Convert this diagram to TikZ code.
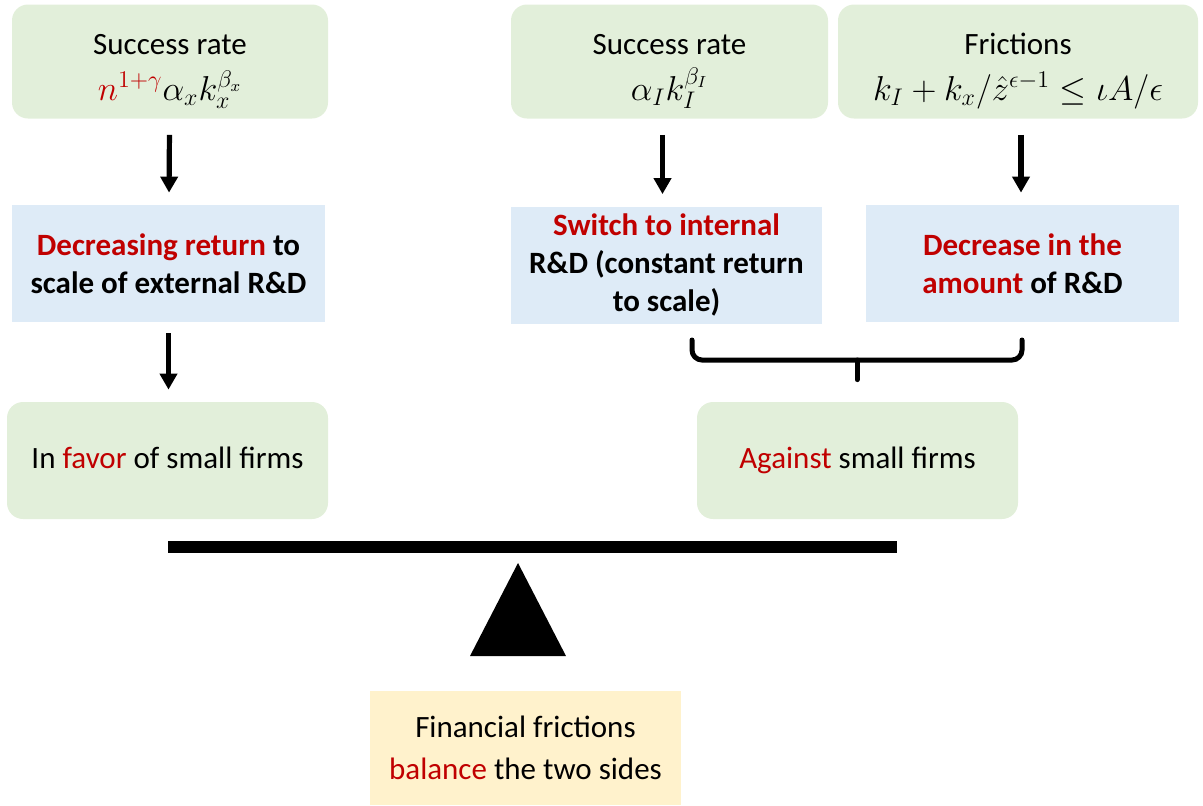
\documentclass[tikz,border=0pt]{standalone}
\usepackage{fontspec}
\setmainfont{Carlito}
\usetikzlibrary{arrows.meta,positioning,calc}
\definecolor{pgreen}{RGB}{226,239,218}
\definecolor{pblue}{RGB}{222,235,247}
\definecolor{pyellow}{RGB}{255,242,204}
\definecolor{hot}{RGB}{192,0,0}
\newcommand{\hl}[1]{\textcolor{hot}{#1}}
\newcommand{\mfs}{\fontsize{17}{19}\selectfont}
\newcommand{\toppad}{\rule{0pt}{20pt}}

\begin{document}
\begin{tikzpicture}[x=0.5pt,y=-0.5pt,
  base/.style={align=center,inner sep=0pt,font=\fontsize{15.5}{19}\selectfont},
  gbox/.style={base,fill=pgreen,rounded corners=8pt,minimum height=57pt},
  bbox/.style={base,fill=pblue,minimum height=58.5pt,font=\fontsize{15.5}{19}\selectfont\bfseries},
  ybox/.style={base,fill=pyellow,minimum height=57pt,font=\fontsize{15.5}{21}\selectfont},
  a/.style={-{Triangle[length=8pt,width=8.5pt]},line width=2.6pt,shorten <=8pt,shorten >=6pt},
  brc/.style={line width=2.5pt,line cap=round}]
 \useasboundingbox (0,0) rectangle (1203,805);
 % top row
 \node[gbox,minimum width=158pt] (g1) at (170,61.5) {\toppad Success rate\\[4pt] {\mfs$\textcolor{hot}{n^{1+\gamma}}\alpha_x k_x^{\beta_x}$}};
 \node[gbox,minimum width=158.5pt] (g2) at (669.5,61.5) {\toppad Success rate\\[4pt] {\mfs$\alpha_I k_I^{\beta_I}$}};
 \node[gbox,minimum width=180pt] (g3) at (1018,61.5) {\toppad Frictions\\[4pt] {\mfs$k_I + k_x/\hat{z}^{\epsilon-1} \leq \iota A/\epsilon$}};
 % mechanisms
 \node[bbox,minimum width=156.5pt] (b1) at (168.5,263.5) {\hl{Decreasing return} to\\ scale of external R\&D};
 \node[bbox,minimum width=155.5pt] (b2) at (666.5,265) {\hl{Switch to internal}\\ R\&D (constant return\\ to scale)};
 \node[bbox,minimum width=156.5pt] (b3) at (1022.5,263.5) {\hl{Decrease in the}\\ \hl{amount} of R\&D};
 % effects
 \node[gbox,minimum width=160.5pt,minimum height=58.5pt] (g4) at (167.5,460.5) {\strut In \hl{favor} of small firms};
 \node[gbox,minimum width=160.5pt,minimum height=58.5pt] (g5) at (857.5,460.5) {\strut\hl{Against} small firms};
 \node[ybox,minimum width=155.5pt] (y1) at (525.5,748) {Financial frictions\\ \hl{balance} the two sides};
 \draw[a] (g1) -- (b1);
 \draw[a] ([xshift=-3.5pt]g2.south) -- ([xshift=-3.5pt]g2.south |- b2.north);
 \draw[a] ([xshift=1.5pt]g3.south) -- ([xshift=1.5pt]g3.south |- b3.north);
 \draw[a,shorten <=5.5pt] (b1) -- (b1 |- g4.north);
 % brace
 \coordinate (bl) at (692,340);
 \coordinate (br) at (1022,340);
 \coordinate (bm) at (857,360);
 \draw[brc,rounded corners=5pt] (bl) -- (bl |- bm) -- (br |- bm) -- (br);
 \draw[brc,shorten >=11pt] (bm) -- (bm |- g5.north);
 % balance
 \fill (168,541) rectangle (897,553);
 \fill (518,563) -- (566,656) -- (470,656) -- cycle;
\end{tikzpicture}
\end{document}
